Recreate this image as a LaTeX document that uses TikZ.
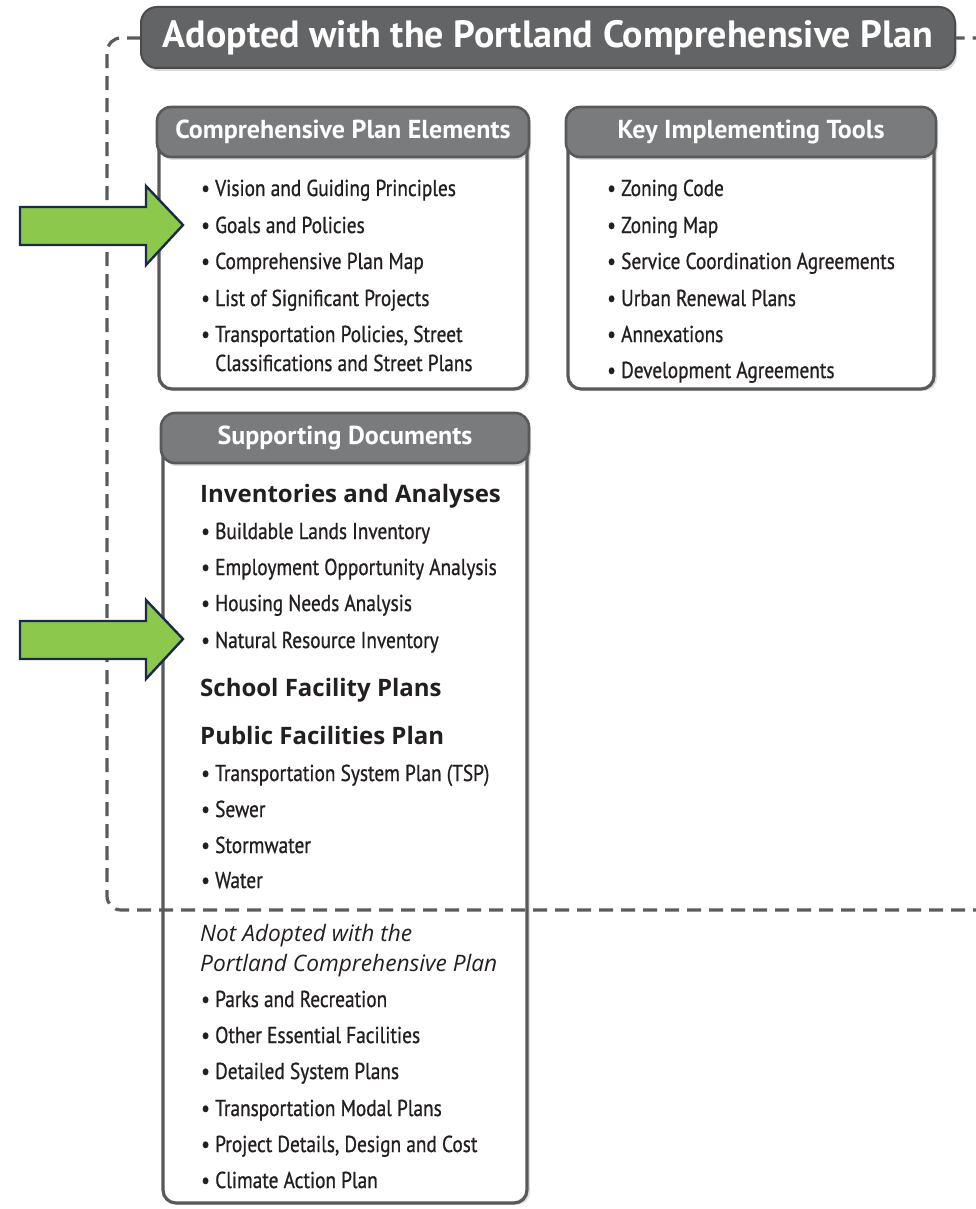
\documentclass[tikz,border=0pt]{standalone}
\usepackage{fontspec}
\setmainfont{PT Sans}
\newfontfamily\cond[FakeStretch=0.84,FakeBold=0.8]{PT Sans}
\newfontfamily\opensans{Open Sans}
\usetikzlibrary{shadows}
\definecolor{titlegray}{HTML}{636466}
\definecolor{titleedge}{HTML}{4A4B4D}
\definecolor{headgray}{HTML}{7A7B7D}
\definecolor{edgegray}{HTML}{58595B}
\definecolor{dashgray}{HTML}{5A5B5D}
\definecolor{txt}{HTML}{231F20}
\definecolor{arrowgreen}{HTML}{8CC84B}
\definecolor{arrownavy}{HTML}{1B2A48}
\newcommand\bul{\makebox[14pt][l]{\textbullet}}
\begin{document}
\begin{tikzpicture}[x=1pt,y=-1pt,
  panel/.style={draw=edgegray, line width=3.2pt, fill=white, rounded corners=13pt,
    drop shadow={shadow xshift=3pt, shadow yshift=-2pt, opacity=0.25}},
  header/.style={draw=edgegray, line width=2.6pt, fill=headgray, rounded corners=14pt,
    text=white, font=\bfseries\fontsize{26}{30}\selectfont,
    drop shadow={shadow xshift=2pt, shadow yshift=-3pt, opacity=0.25}},
  titlebox/.style={draw=titleedge, line width=2pt, fill=titlegray, rounded corners=16pt,
    text=white, font=\bfseries\fontsize{38}{42}\selectfont,
    drop shadow={shadow xshift=2pt, shadow yshift=-3pt, opacity=0.3}},
  item/.style={anchor=base west, inner sep=0pt, text=txt, font=\cond\fontsize{23}{28}\selectfont},
  subhead/.style={anchor=base west, inner sep=0pt, text=txt, font=\opensans\bfseries\fontsize{24}{28}\selectfont},
  ital/.style={anchor=base west, inner sep=0pt, text=txt, font=\opensans\itshape\fontsize{22.7}{28}\selectfont},
  dashline/.style={draw=dashgray, line width=3.2pt, dash pattern=on 14pt off 8pt, rounded corners=14pt},
  greenarrow/.style={fill=arrowgreen, draw=arrownavy, line width=2.4pt, line join=miter}
]
\useasboundingbox (0,0) rectangle (976,1209);

% panels
\node[panel, minimum width=368pt, minimum height=270pt] (b1) at (343,254) {};
\node[header, minimum width=372pt, minimum height=50pt] (h1) at (343,132) {Comprehensive Plan Elements};
\node[panel, minimum width=366pt, minimum height=270pt] (b2) at (751,254) {};
\node[header, minimum width=370pt, minimum height=50pt] (h2) at (751,132) {Key Implementing Tools};
\node[panel, minimum width=364pt, minimum height=775pt] (b3) at (345,815.5) {};
\node[header, minimum width=368pt, minimum height=50pt] (h3) at (345,438) {Supporting Documents};

% title and dashed frame
\coordinate (tl) at (141,38);
\coordinate (tr) at (955,38);
\draw[dashline] (tl) -- (107,38) -- (107,910) -- (990,910) -- (990,38) -- (tr);
\node[titlebox, minimum width=814pt, minimum height=61pt] (title) at (548,37.5)
  {Adopted with the Portland Comprehensive Plan};

% box 1 items
\node[item] (e1) at (201,196) {\bul Vision and Guiding Principles};
\node[item] (e2) at (201,233) {\bul Goals and Policies};
\node[item] (e3) at (201,269) {\bul Comprehensive Plan Map};
\node[item] (e4) at (201,306) {\bul List of Significant Projects};
\node[item] (e5) at (201,342) {\bul Transportation Policies, Street};
\node[item] (e6) at (215,371) {Classifications and Street Plans};

% box 2 items
\node[item] (k1) at (607,196) {\bul Zoning Code};
\node[item] (k2) at (607,233) {\bul Zoning Map};
\node[item] (k3) at (607,269) {\bul Service Coordination Agreements};
\node[item] (k4) at (607,306) {\bul Urban Renewal Plans};
\node[item] (k5) at (607,342) {\bul Annexations};
\node[item] (k6) at (607,378) {\bul Development Agreements};

% box 3 items
\node[subhead] (s1) at (200,502) {Inventories and Analyses};
\node[item] (s2) at (201,539) {\bul Buildable Lands Inventory};
\node[item] (s3) at (201,575) {\bul Employment Opportunity Analysis};
\node[item] (s4) at (201,611) {\bul Housing Needs Analysis};
\node[item] (s5) at (201,648) {\bul Natural Resource Inventory};
\node[subhead] (s6) at (200,696) {School Facility Plans};
\node[subhead] (s7) at (200,744) {Public Facilities Plan};
\node[item] (s8) at (201,781) {\bul Transportation System Plan (TSP)};
\node[item] (s9) at (201,817) {\bul Sewer};
\node[item] (s10) at (201,853) {\bul Stormwater};
\node[item] (s11) at (201,888) {\bul Water};
\node[ital] (s12) at (200,941) {Not Adopted with the};
\node[ital] (s13) at (200,971) {Portland Comprehensive Plan};
\node[item] (s14) at (201,1007) {\bul Parks and Recreation};
\node[item] (s15) at (201,1043) {\bul Other Essential Facilities};
\node[item] (s16) at (201,1079) {\bul Detailed System Plans};
\node[item] (s17) at (201,1116) {\bul Transportation Modal Plans};
\node[item] (s18) at (201,1152) {\bul Project Details, Design and Cost};
\node[item] (s19) at (201,1188) {\bul Climate Action Plan};

% green arrows
\draw[greenarrow] (20,207) -- (146,207) -- (146,186) -- (183,225) -- (146,265) -- (146,245) -- (20,245) -- cycle;
\draw[greenarrow] (20,621) -- (146,621) -- (146,600) -- (183,639) -- (146,679) -- (146,659) -- (20,659) -- cycle;
\end{tikzpicture}
\end{document}
